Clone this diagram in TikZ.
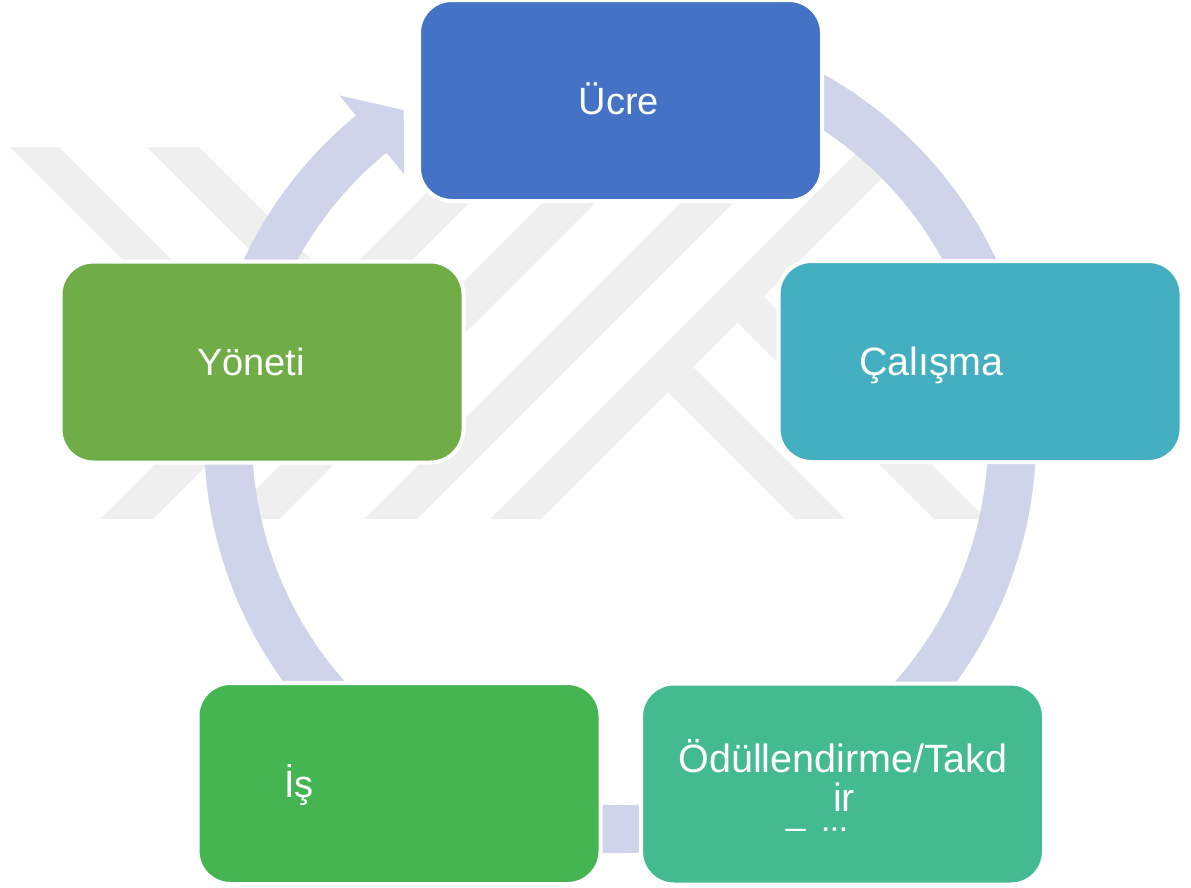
\documentclass[tikz,border=0pt]{standalone}
\usepackage{fontspec}
\setmainfont{Liberation Sans}
\usetikzlibrary{calc}
\definecolor{wmgray}{RGB}{239,239,239}
\definecolor{ringcol}{RGB}{207,212,234}
\definecolor{cUcre}{RGB}{68,114,196}
\definecolor{cCal}{RGB}{68,175,192}
\definecolor{cOdul}{RGB}{68,187,142}
\definecolor{cIs}{RGB}{69,181,82}
\definecolor{cYon}{RGB}{112,173,71}
\tikzset{
  stepbox/.style={draw=white, line width=4pt, rounded corners=33pt,
    inner sep=0pt, outer sep=0pt, minimum width=403pt, minimum height=201pt},
  lbl/.style={text=white, inner sep=0pt, outer sep=0pt,
    font=\fontsize{38}{40}\selectfont},
  lblwide/.style={lbl, font=\fontsize{39.5}{41}\selectfont},
  band/.style={fill=wmgray},
}
\begin{document}
\begin{tikzpicture}[x=1pt, y=-1pt]
\useasboundingbox (0,0) rectangle (1191,887);
\fill[white] (0,0) rectangle (1191,887);

% background emblem: diagonal bands
\fill[band] (10,147) -- (59,147) -- (265.5,353.5) -- (241,378) -- cycle;
\fill[band] (147,147) -- (199,147) -- (398.5,346.5) -- (372.5,372.5) -- cycle;
\fill[band] (472,147) -- (525,147) -- (153,519) -- (100,519) -- cycle;
\fill[band] (598,147) -- (651,147) -- (279,519) -- (226,519) -- cycle;
\fill[band] (736,147) -- (789,147) -- (417,519) -- (364,519) -- cycle;
\fill[band] (862,147) -- (913,147) -- (541,519) -- (490,519) -- cycle;
\fill[band] (763.5,296.5) -- (986,519) -- (934,519) -- (737.5,322.5) -- cycle;
\fill[band] (693,367) -- (845,519) -- (795,519) -- (668,392) -- cycle;

% cycle ring with its arrowhead
\coordinate (c) at (620,437);
\draw[ringcol, line width=48pt] ($(c)+(-105:392)$) arc[start angle=-105, end angle=231, radius=392];
\coordinate (headL) at ($(c)+(230.6:442)$);
\coordinate (headT) at ($(c)+(236.5:392)$);
\coordinate (headR) at ($(c)+(230.6:340)$);
\fill[ringcol] (headL) -- (headT) -- (headR) -- cycle;

% stages
\node[stepbox, fill=cUcre] (ucre) at (620.5,100.5) {};
\node[stepbox, fill=cCal]  (calisma) at (980,361.5) {};
\node[stepbox, fill=cOdul] (odul) at (842.5,784) {};
\node[stepbox, fill=cIs]   (is) at (399,783.5) {};
\node[stepbox, fill=cYon]  (yonet) at (262,362) {};

% labels
\node[lbl, anchor=base] (ucreT) at (619,114) {Ücre};
\node[lblwide, anchor=base west] (calismaT) at (859,375) {Çalışma};
\node[lbl, anchor=base west] (yonetT) at (197,375) {Yöneti};
\node[lbl, anchor=base west] (isT) at (284,797) {İş};
\node[lblwide, anchor=base] (odulA) at (843,772) {Ödüllendirme/Takd};
\node[lblwide, anchor=base] (odulB) at (844,811) {ir};
\begin{scope}
  \clip (643,685) rectangle (1042,830);
  \node[lblwide, anchor=base] (odulC) at (843,856) {Edilme};
\end{scope}
\end{tikzpicture}
\end{document}
